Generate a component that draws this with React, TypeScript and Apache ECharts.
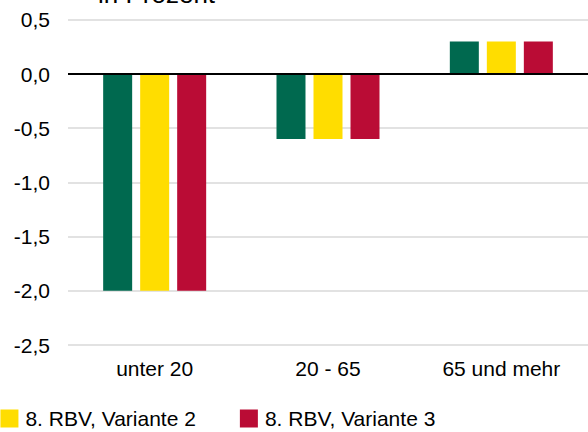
import React, { useEffect, useRef } from "react";
import * as echarts from "echarts";

const categories = ["unter 20", "20 - 65", "65 und mehr"];
const seriesNames = ["8. RBV, Variante 1", "8. RBV, Variante 2", "8. RBV, Variante 3"];
const variante1 = [-2.0, -0.6, 0.3];
const variante2 = [-2.0, -0.6, 0.3];
const variante3 = [-2.0, -0.6, 0.3];
const colors = ["#00694F", "#FFDD00", "#BA0C35"];
const titleText = "in Prozent";

const FONT = "'Liberation Sans', Arial, sans-serif";

export default function App() {
  const ref = useRef<HTMLDivElement>(null);
  useEffect(() => {
    if (!ref.current) return;
    const chart = echarts.init(ref.current, null, { renderer: "svg" });
    const values = [variante1, variante2, variante3];
    chart.setOption({
      animation: false,
      textStyle: { fontFamily: FONT },
      graphic: [
        {
          type: "text",
          left: 98,
          top: -19,
          style: {
            text: titleText,
            fontSize: 26,
            fontFamily: FONT,
            fill: "#000",
          },
        },
      ],
      legend: {
        left: -244,
        top: 403,
        itemWidth: 18,
        itemHeight: 18,
        itemGap: 44,
        icon: "rect",
        textStyle: { fontSize: 21, color: "#000", fontFamily: FONT, padding: [0, 0, 0, 2] },
        data: seriesNames,
      },
      grid: { left: 68, right: -3, top: 19.8, bottom: 87, containLabel: false },
      xAxis: {
        type: "category",
        data: categories,
        axisLine: { show: false },
        axisTick: { show: false },
        axisLabel: { fontSize: 21, color: "#000", margin: 13, fontFamily: FONT },
        splitLine: { show: false },
      },
      yAxis: {
        type: "value",
        min: -2.5,
        max: 0.5,
        interval: 0.5,
        axisLine: { show: false },
        axisTick: { show: false },
        axisLabel: {
          fontSize: 21,
          color: "#000",
          margin: 18,
          fontFamily: FONT,
          formatter: (v: number) => v.toFixed(1).replace(".", ","),
        },
        splitLine: { lineStyle: { color: "#d9d9d9", width: 1.5 } },
      },
      series: seriesNames.map((name, i) => ({
        name,
        type: "bar",
        data: values[i],
        barWidth: 29,
        barGap: "27.6%",
        itemStyle: { color: colors[i] },
        markLine:
          i === 0
            ? {
                silent: true,
                symbol: "none",
                label: { show: false },
                lineStyle: { color: "#000", type: "solid", width: 2 },
                data: [{ yAxis: 0 }],
                z: 10,
              }
            : undefined,
      })),
    });
    return () => chart.dispose();
  }, []);
  return (
    <div
      ref={ref}
      style={{ position: "absolute", left: 0, top: 0, width: 588, height: 432 }}
    />
  );
}
